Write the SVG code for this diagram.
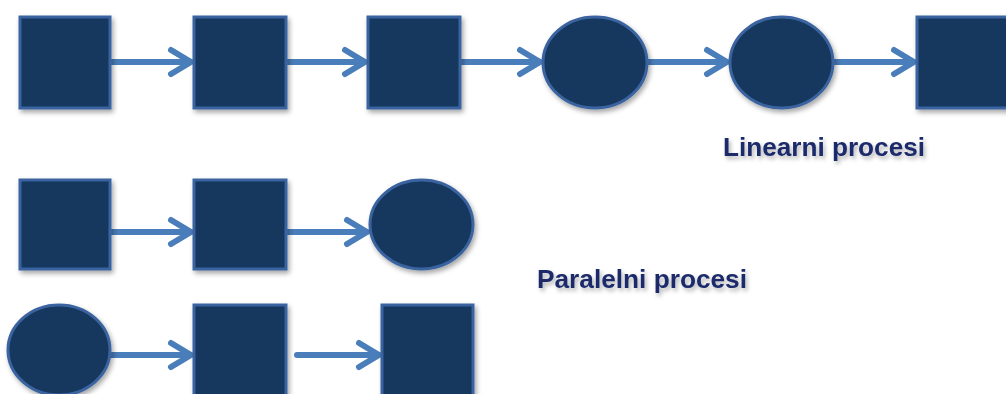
<svg xmlns="http://www.w3.org/2000/svg" width="1006" height="394" viewBox="0 0 1006 394">
<defs>
<filter id="sh" x="-20%" y="-20%" width="150%" height="150%">
<feDropShadow dx="2" dy="3" stdDeviation="2.5" flood-color="#000" flood-opacity="0.35"/>
</filter>
<filter id="tsh" x="-10%" y="-30%" width="130%" height="180%">
<feDropShadow dx="2" dy="3" stdDeviation="2" flood-color="#000" flood-opacity="0.3"/>
</filter>
</defs>
<style>
.n{fill:#17375e;stroke:#3a64a0;stroke-width:3;filter:url(#sh)}
.c{fill:none;stroke:#4a7ebb;stroke-width:6;stroke-linecap:round;stroke-linejoin:round}
.t{font-family:"Liberation Sans",Arial,sans-serif;font-weight:bold;font-size:25px;fill:#1a2a6b;filter:url(#tsh)}
</style>
<rect width="1006" height="394" fill="#fff"/>
<g id="connectors">
<path class="c" d="M110 62H191M171 50L191 62L171 74"/>
<path class="c" d="M286 62H365M345 50L365 62L345 74"/>
<path class="c" d="M460 62H540M520 50L540 62L520 74"/>
<path class="c" d="M647 62H727M707 50L727 62L707 74"/>
<path class="c" d="M833 62H914M894 50L914 62L894 74"/>
<path class="c" d="M110 232H191M171 220L191 232L171 244"/>
<path class="c" d="M286 232H367M347 220L367 232L347 244"/>
<path class="c" d="M110 355H191M171 343L191 355L171 367"/>
<path class="c" d="M297 355H379M359 343L379 355L359 367"/>
</g>
<g id="n1"><rect class="n" x="20" y="17" width="90" height="91"/></g>
<g id="n2"><rect class="n" x="194" y="17" width="92" height="91"/></g>
<g id="n3"><rect class="n" x="368" y="17" width="92" height="91"/></g>
<g id="n4"><ellipse class="n" cx="595" cy="62.5" rx="52" ry="45.5"/></g>
<g id="n5"><ellipse class="n" cx="781.5" cy="62.5" rx="51.5" ry="45.5"/></g>
<g id="n6"><rect class="n" x="917" y="17" width="92" height="91"/></g>
<g id="n7"><rect class="n" x="20" y="180" width="90" height="89"/></g>
<g id="n8"><rect class="n" x="194" y="180" width="92" height="89"/></g>
<g id="n9"><ellipse class="n" cx="421.5" cy="224.5" rx="51.5" ry="44.5"/></g>
<g id="n10"><ellipse class="n" cx="59" cy="350" rx="51" ry="45"/></g>
<g id="n11"><rect class="n" x="194" y="305" width="92" height="92"/></g>
<g id="n12"><rect class="n" x="382" y="305" width="91" height="92"/></g>
<g id="labels">
<text class="t" x="723" y="156" textLength="202" lengthAdjust="spacingAndGlyphs">Linearni procesi</text>
<text class="t" x="537" y="288" textLength="210" lengthAdjust="spacingAndGlyphs">Paralelni procesi</text>
</g>
</svg>
